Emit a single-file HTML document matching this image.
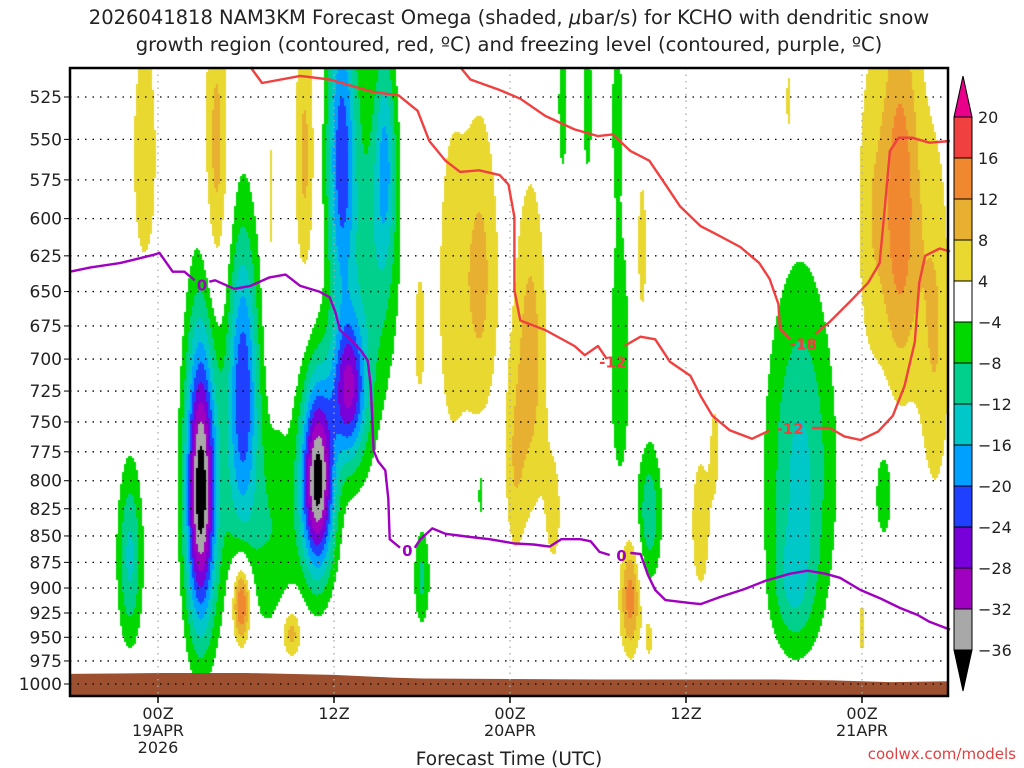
<!DOCTYPE html>
<html><head><meta charset="utf-8">
<style>
html,body{margin:0;padding:0;background:#fff;}
#wrap{position:relative;width:1024px;height:768px;overflow:hidden;font-family:"DejaVu Sans","Liberation Sans",sans-serif;color:#222;}
#field{position:absolute;left:0;top:0;}
svg{position:absolute;left:0;top:0;}
</style></head>
<body>
<div id="wrap">
<canvas id="field" width="1024" height="768"></canvas>
<svg id="svg" width="1024" height="768"></svg>
</div>
<script>
// ---- data ----
const pressureTicks=[525,550,575,600,625,650,675,700,725,750,775,800,825,850,875,900,925,950,975,1000];
const timeTickHours=[0,12,24,36,48];
const timeTickLabels=[["00Z","19APR","2026"],["12Z"],["00Z","20APR"],["12Z"],["00Z","21APR"]];
const cbLevels=[20,16,12,8,4,-4,-8,-12,-16,-20,-24,-28,-32,-36];
const cbColors=["#f04040","#f08830","#e8b030","#e8d830","#ffffff","#00d800","#00d08c","#00c8c8","#00a0ff","#2040ff","#7800d8","#a000c0","#a8a8a8"];
// omega features: [hour, hPa, peak ubar/s, spread hours, spread hPa]
const omegaBlobs=[
[2.9,810,-36,0.7,90],[-1.9,870,-13,0.6,60],[5.8,720,-19,0.7,80],[10.9,800,-38,0.8,60],
[13.0,725,-25,0.8,40],[12.5,560,-21,0.7,70],[15.3,620,-6,1.0,70],[8.0,850,-6,1.2,70],
[5,790,-6,2.0,110],[14,650,-6,1.2,110],
[15.5,560,-12,0.5,45],[18,890,-9,0.4,35],[22,810,-6,0.2,25],[31.5,700,-8,0.5,75],
[33.5,830,-11,0.6,45],[27.6,530,-6,0.3,40],[29.3,530,-6,0.3,40],[31.3,530,-6,0.3,40],
[43.8,790,-13,1.6,105],[43.3,900,-7,1.0,40],[49.5,810,-7,0.5,35],
[5.7,915,20,0.45,30],[9.1,945,11,0.5,20],[4.0,560,10,0.6,70],[-0.9,560,6,0.8,70],
[10,560,9,0.5,60],[7.7,600,5,0.3,80],[22,640,9,0.9,80],[25.4,700,10,0.8,90],[20,650,6,0.8,100],
[17.8,680,5,0.5,60],[24.3,790,6,0.5,60],[27,830,5,0.5,50],[32.2,910,14,0.5,40],[33.5,950,5,0.3,25],
[37,840,6,0.6,60],[33,620,5,0.4,60],[38,770,4.5,0.3,40],[48,940,5,0.2,40],
[50.6,590,15,1.0,90],[53,680,8,0.8,100],[48.5,600,6,0.7,80],[43,530,5,0.3,30]];
const groundHours=[-6,0,6,12,16,18,30,42,46,50,54];
const groundPressure=[989,988,988,990,993,994,995,995,996,998,997];
const dgzUpper=[[6.3,508],[7.1,517],[9.7,513],[11.7,515],[14.6,522],[16.4,524],[17.7,533],[18.5,551],[19.6,563],[20.6,570],[21.9,569],[23.3,572],[23.9,578],[24.3,599],[24.3,649],[24.7,671],[26.4,678],[28.4,690],[29.1,697],[30.0,690],[30.6,700]];
const dgzUpperB=[[31.8,690],[32.9,683],[33.9,685],[34.9,702],[36.3,713],[37.0,729],[37.8,745],[39.0,757],[40.5,764],[41.7,757]];
const dgzUpperC=[[44.6,755],[45.8,755],[46.8,762],[47.9,765],[49.1,758],[50.1,745],[50.9,721],[51.6,687],[51.9,644],[52.3,625],[53.3,620],[54,622]];
const dgzLowerA=[[20.6,508],[21.3,515],[23.3,521],[24.7,526],[26.4,536],[28.4,544],[30.0,548],[31.0,547],[32.2,557],[33.5,563],[34.6,578],[35.6,592],[37.0,605],[38.0,610],[39.7,619],[41.0,630],[41.7,641],[42.3,659],[42.4,677],[43.1,685]];
const dgzLowerB=[[44.8,681],[45.8,672],[47.2,657],[48.4,644],[49.2,630],[49.6,588],[49.9,557],[50.5,549],[51.4,549],[52.6,552],[54,551]];
const frzA=[[-6,636],[-4.6,633],[-2.6,630],[-0.2,624],[0.1,623],[1.0,636],[1.8,636],[2.5,642]];
const frzB=[[3.5,643],[3.9,642],[5.2,648],[6.3,646],[7.6,640],[8.7,638],[9.7,646],[11.0,650],[11.7,654],[12.1,665],[12.4,678],[13.1,685],[13.8,693],[14.3,701],[14.5,721],[14.6,745],[14.7,774],[15.0,783],[15.5,791],[15.7,816],[15.8,853],[16.5,861]];
const frzC=[[17.5,861],[17.9,853],[18.7,843],[19.6,848],[21.3,851],[22.6,853],[24.3,857],[25.6,858],[26.7,860],[27.5,853],[28.8,853],[29.5,855],[30.1,865],[30.8,868]];
const frzD=[[32.2,866],[32.9,867],[33.4,887],[33.9,902],[34.6,912],[36.3,915],[37.0,916],[38.3,909],[40.0,901],[41.4,893],[43.1,886],[44.3,883],[45.5,886],[46.5,890],[47.9,902],[49.2,910],[50.6,920],[51.8,927],[52.6,934],[54,942]];
const contourLabels=[["-12",31.0,702,"#f04040"],["-12",43.1,755,"#f04040"],["-18",44.0,688,"#f04040"],["0",3.0,645,"#a000c0"],["0",17.0,863,"#a000c0"],["0",31.6,868,"#a000c0"]];

// ---- axes ----
const L=70,R=948,T=68,B=696;
const xS=h=>158+h*(176/12);
const xInv=x=>(x-158)/(176/12);
const yS=p=>97+911*(Math.log(p)-Math.log(525));
const yInv=y=>525*Math.exp((y-97)/911);

// ---- shading ----
const cv=document.getElementById('field');const ctx=cv.getContext('2d');
function colorFor(v){
  if(v>=20)return "#e8008a";
  if(v<-36)return "#000000";
  for(let i=0;i<cbLevels.length-1;i++){ if(v<cbLevels[i]&&v>=cbLevels[i+1])return cbColors[i]; }
  return "#ffffff";
}
const st=2;
for(let x=L;x<R;x+=st){
  const t=xInv(x+st/2);
  for(let y=T;y<B;y+=st){
    const p=yInv(y+st/2);let v=0;
    for(const b of omegaBlobs){const dt=(t-b[0])/b[3],dp=(p-b[1])/b[4];const e=dt*dt+dp*dp;if(e<30)v+=b[2]*Math.exp(-e/2);}
    const c=colorFor(v);if(c!=="#ffffff"){ctx.fillStyle=c;ctx.fillRect(x,y,st,st);}
  }
}

// ---- svg ----
const NS="http://www.w3.org/2000/svg";const svg=document.getElementById('svg');
function mk(tag,attrs,parent){const e=document.createElementNS(NS,tag);for(const k in attrs)e.setAttribute(k,attrs[k]);(parent||svg).appendChild(e);return e;}
let gp=`M${L},${B} `;groundHours.forEach((h,i)=>{gp+=`L${Math.max(L,Math.min(R,xS(h)))},${yS(groundPressure[i])} `;});gp+=`L${R},${B} Z`;
const ground=mk('path',{d:gp,fill:'#9c5030'});


pressureTicks.forEach(p=>{const y=yS(p);
  const g=mk('line',{x1:L,x2:R,y1:y,y2:y,stroke:'#000','stroke-width':1.3,'stroke-dasharray':'1.5 6'});
  
  
  mk('line',{x1:L-6,x2:L,y1:y,y2:y,stroke:'#000','stroke-width':1});
  const lb=mk('text',{x:L-8,y:y+6,'text-anchor':'end','font-size':17,fill:'#222'});lb.textContent=p;
  
  
});
timeTickHours.forEach((h,i)=>{const x=xS(h);
  const g=mk('line',{x1:x,x2:x,y1:T,y2:B,stroke:'#aaa','stroke-width':1.3,'stroke-dasharray':'1.5 5'});
  
  
  mk('line',{x1:x,x2:x,y1:B,y2:B+7,stroke:'#000','stroke-width':1.5});
  timeTickLabels[i].forEach((s,j)=>{const tx=mk('text',{x:x,y:719+j*17,'text-anchor':'middle','font-size':16,fill:'#222'});tx.textContent=s;
    
    });
});
function line(pts,col,name){const d=pts.map((q,i)=>(i?'L':'M')+xS(q[0]).toFixed(1)+','+yS(q[1]).toFixed(1)).join(' ');
  const e=mk('path',{d:d,fill:'none',stroke:col,'stroke-width':2.4,'stroke-linejoin':'round'});
  
  }
[dgzUpper,dgzUpperB,dgzUpperC].forEach(a=>line(a,'#f04040','dgz-contour-minus12'));
[dgzLowerA,dgzLowerB].forEach(a=>line(a,'#f04040','dgz-contour-minus18'));
[frzA,frzB,frzC,frzD].forEach(a=>line(a,'#a000c0','freezing-level-contour'));
contourLabels.forEach(c=>{const tx=mk('text',{x:xS(c[1]),y:yS(c[2])+6,'text-anchor':'middle','font-size':15,'font-weight':'bold',fill:c[3]});tx.textContent=c[0];
  
  });
const fr=mk('rect',{x:L,y:T,width:R-L,height:B-T,fill:'none',stroke:'#000','stroke-width':2.5});


// colorbar
const cbX=954,cbW=18,cbTop=117,cbStep=41;
const cb=mk('g',{});
mk('polygon',{points:`${cbX},${cbTop} ${cbX+cbW},${cbTop} ${cbX+cbW/2},76`,fill:'#e8008a',stroke:'#000','stroke-width':1},cb);
cbColors.forEach((c,i)=>{mk('rect',{x:cbX,y:cbTop+i*cbStep,width:cbW,height:cbStep,fill:c,stroke:'#000','stroke-width':1},cb);});
const cbBot=cbTop+cbColors.length*cbStep;
mk('polygon',{points:`${cbX},${cbBot} ${cbX+cbW},${cbBot} ${cbX+cbW/2},691`,fill:'#000',stroke:'#000','stroke-width':1},cb);
cbLevels.forEach((v,i)=>{const tx=mk('text',{x:978,y:cbTop+i*cbStep+6,'font-size':16,fill:'#222'},cb);tx.textContent=v<0?'\u2212'+(-v):v;
  
  });
function txt(s,x,y,size,anchor,name,col){const e=mk('text',{x:x,y:y,'font-size':size,'text-anchor':anchor,fill:col||'#222'});e.innerHTML=s;
  
  return e;}
txt('2026041818 NAM3KM Forecast Omega (shaded, <tspan font-style="italic">μ</tspan>bar/s) for KCHO with dendritic snow',509,24,19.5,'middle','chart-title-line1');
txt('growth region (contoured, red, ºC) and freezing level (contoured, purple, ºC)',509,51,19.5,'middle','chart-title-line2');
txt('Forecast Time (UTC)',509,765,18.5,'middle','x-axis-title');
txt('coolwx.com/models',1016,759,15,'end','source-credit','#e04040');
</script>
</body></html>
